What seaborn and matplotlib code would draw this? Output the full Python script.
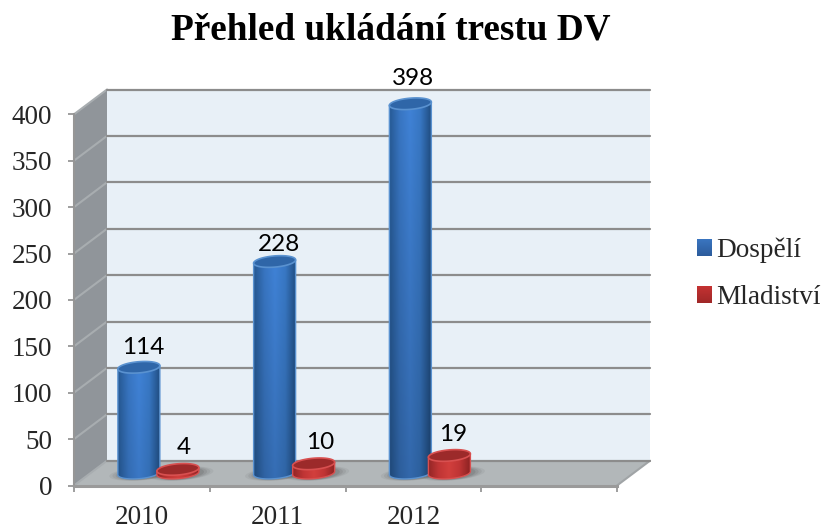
import numpy as np
import pandas as pd
import matplotlib
matplotlib.use("Agg")
import matplotlib.pyplot as plt
from matplotlib.patches import Polygon, PathPatch
from matplotlib.path import Path
import seaborn as sns

# values
years = ['2010', '2011', '2012']
dospeli = [114, 228, 398]
mladistvi = [4, 10, 19]
y_ticks = [0, 50, 100, 150, 200, 250, 300, 350, 400]
series_names = ['Dospělí', 'Mladiství']
title = 'Přehled ukládání trestu DV'

W, H = 821, 529
SERIF = 'Liberation Serif'

# plot box in pixels: front plane and depth of the 3D box
FRONT_L, FRONT_R, FRONT_B, FRONT_T = 74, 617, 485.5, 114.3
DX, DY = 33, -24.8
RADIUS = 21          # cylinder radius
ELL = 5.6            # half height of the ellipse
TILT = 0.08          # slope of the ellipse, right side higher

GRID = '#8c8c8c'
AXIS = '#969696'

BLUE_SIDE = [(0.15, 0.35, 0.58), (0.22, 0.46, 0.76), (0.25, 0.51, 0.84), (0.22, 0.47, 0.77), (0.13, 0.31, 0.52)]
RED_SIDE = [(0.58, 0.15, 0.15), (0.76, 0.21, 0.21), (0.83, 0.25, 0.24), (0.76, 0.21, 0.21), (0.56, 0.14, 0.14)]
STYLE = {
    'Dospělí': dict(side=BLUE_SIDE, top='#2f66a8', edge='#5a92d0', dark='#2c5c9c'),
    'Mladiství': dict(side=RED_SIDE, top='#9c2a2a', edge='#d85050', dark='#a02828'),
}
# label offset from the top of each cylinder, (dx, dy) in pixels
LABEL_OFF = {
    ('Dospělí', 0): (4, -20), ('Dospělí', 1): (4, -17), ('Dospělí', 2): (3, -25),
    ('Mladiství', 0): (6, -22), ('Mladiství', 1): (7, -21), ('Mladiství', 2): (4, -21),
}


def add_box(fig, left, right, bottom, top, **kw):
    """axes from pixel position (y counted from the top of the picture)"""
    return fig.add_axes([left / W, 1 - bottom / H, (right - left) / W, (bottom - top) / H], **kw)


def ellipse_xy(cx, cy, start=0, stop=2 * np.pi, a=RADIUS, b=ELL):
    t = np.linspace(start, stop, 60)
    x = cx + a * np.cos(t)
    y = cy + b * np.sin(t) - TILT * a * np.cos(t)
    return np.column_stack([x, y])


def cylinder(ax, cx, top_y, base_y, style, z):
    low = ellipse_xy(cx, base_y, 0, np.pi)
    top_r = ellipse_xy(cx, top_y, 0, 0)[0]
    top_l = ellipse_xy(cx, top_y, np.pi, np.pi)[0]
    body = np.vstack([[top_r], low, [top_l]])
    patch = Polygon(body, closed=True, fc='none', ec=style['edge'], lw=1.0, zorder=z + 0.2)
    ax.add_patch(patch)

    # side of the cylinder, dark edges and a bit darker to the bottom
    prof = np.array(style['side'])
    xs = np.linspace(0, 1, 64)
    row = np.column_stack([np.interp(xs, np.linspace(0, 1, 5), prof[:, i]) for i in range(3)])
    y_min, y_max = body[:, 1].min(), body[:, 1].max()
    fade = np.linspace(1.0, 1.0 - min(0.2, (y_max - y_min) / 1400), 64)[:, None, None]
    img = np.clip(row[None, :, :] * fade, 0, 1)
    im = ax.imshow(img, extent=(cx - RADIUS, cx + RADIUS, y_max, y_min), origin='upper',
                   aspect='auto', zorder=z, interpolation='bilinear')
    clip = PathPatch(Path(np.vstack([body, body[0]])), transform=ax.transData, fc='none', ec='none')
    ax.add_patch(clip)
    im.set_clip_path(clip)

    ax.add_patch(Polygon(ellipse_xy(cx, top_y), closed=True, fc=style['top'], ec=style['edge'],
                         lw=1.2, zorder=z + 0.3))


def shadow(ax, cx, base_y):
    for grow, alpha in zip([1.55, 1.4, 1.25, 1.1], [0.07, 0.09, 0.11, 0.14]):
        pts = ellipse_xy(cx + 3, base_y + 0.5, a=RADIUS * grow, b=ELL * (0.7 + grow / 3))
        ax.add_patch(Polygon(pts, closed=True, fc='#3c3c3c', ec='none', alpha=alpha, zorder=1))


df = pd.DataFrame({'rok': years * 2,
                   'serie': [series_names[0]] * 3 + [series_names[1]] * 3,
                   'pocet': dospeli + mladistvi})

sns.set_style('white')
plt.rcParams['font.family'] = [SERIF, 'DejaVu Serif']
fig = plt.figure(figsize=(W / 100, H / 100), dpi=100, facecolor='white')

# side wall and floor, in pixel coordinates
bg = add_box(fig, 0, W, H, 0, zorder=0)
bg.set_xlim(0, W)
bg.set_ylim(H, 0)
bg.axis('off')
bg.add_patch(Polygon([(FRONT_L, FRONT_B), (FRONT_L + DX, FRONT_B + DY), (FRONT_L + DX, FRONT_T + DY), (FRONT_L, FRONT_T)],
                     closed=True, fc='#90959a', ec='none'))
bg.add_patch(Polygon([(FRONT_L, FRONT_B), (FRONT_L + DX, FRONT_B + DY), (FRONT_R + DX, FRONT_B + DY), (FRONT_R, FRONT_B)],
                     closed=True, fc='#b2b7b9', ec='none'))
per_unit = (FRONT_B - FRONT_T) / 400
for v in y_ticks:
    y = FRONT_B - v * per_unit
    bg.plot([FRONT_L, FRONT_L + DX], [y, y + DY], color='#a8adb0', lw=1.5)
bg.plot([FRONT_R, FRONT_R + DX], [FRONT_B, FRONT_B + DY], color='#a0a4a6', lw=1.5)

# back wall with the grid lines
wall = add_box(fig, FRONT_L + DX, FRONT_R + DX, FRONT_B + DY, FRONT_T + DY, zorder=1)
wall.set_facecolor('#e8f0f7')
wall.set_xlim(0, 1)
wall.set_ylim(0, 400)
wall.set_xticks([])
wall.set_yticks(y_ticks)
wall.tick_params(left=False, labelleft=False)
wall.grid(True, axis='y', color=GRID, lw=1.6)
for s in wall.spines.values():
    s.set_visible(False)
for line in wall.get_ygridlines():
    line.set_clip_on(False)

# front plane with the axes
ax = add_box(fig, FRONT_L, FRONT_R, FRONT_B, FRONT_T, zorder=2)
ax.patch.set_alpha(0)
ax.set_xlim(-0.5, 3.5)
ax.set_ylim(0, 400)
ax.set_yticks(y_ticks)
ax.set_xticks(np.arange(-0.5, 4, 1))
ax.set_xticklabels([])
ax.set_xticks(range(len(years)), labels=years, minor=True)
ax.tick_params(axis='y', length=4.5, width=1.3, color=AXIS, pad=11, labelsize=19.5, left=True)
ax.tick_params(axis='x', which='major', length=4.5, width=1.3, color=AXIS, bottom=True)
ax.tick_params(axis='x', which='minor', length=0, pad=14, labelsize=19.5, bottom=True)
sns.despine(ax=ax)
ax.spines['left'].set_color(AXIS)
ax.spines['left'].set_linewidth(1.5)
ax.spines['bottom'].set_color('#9a9a9a')
ax.spines['bottom'].set_linewidth(2.2)

# bars stand half way into the box
bar_ax = add_box(fig, FRONT_L + DX / 2, FRONT_R + DX / 2, FRONT_B + DY / 2, FRONT_T + DY / 2, zorder=3)
bar_ax.patch.set_alpha(0)
sns.barplot(data=df, x='rok', y='pocet', hue='serie', hue_order=series_names,
            order=years + [' '], palette=['#3a75c0', '#c43232'], width=0.575, gap=0,
            saturation=1, ax=bar_ax, legend=True)
bar_ax.set_xlim(-0.5, 3.5)
bar_ax.set_ylim(0, 400)
bar_ax.axis('off')

sns.move_legend(bar_ax, loc='center left', bbox_to_anchor=(697 / W, 1 - 274 / H),
                bbox_transform=fig.transFigure, title=None, frameon=False, fontsize=19.6,
                borderpad=0, borderaxespad=0, handlelength=0.55, handleheight=0.55,
                handletextpad=0.17, labelspacing=0.82)

# cylinders, in pixel coordinates on top of the bars
fg = add_box(fig, 0, W, H, 0, zorder=4)
fg.set_xlim(0, W)
fg.set_ylim(H, 0)
fg.axis('off')

bars = [p for p in bar_ax.patches if np.isfinite(p.get_height()) and p.get_height() > 0]
bars = sorted(bars, key=lambda p: p.get_x())
to_px = bar_ax.transData + fg.transData.inverted()
z = 2
for i in range(len(years)):
    for k, name in enumerate(series_names):
        bar = bars[i * 2 + k]
        x_mid = bar.get_x() + bar.get_width() / 2
        cx, base_y = to_px.transform((x_mid, 0))
        _, top_y = to_px.transform((x_mid, bar.get_height()))
        shadow(fg, cx, base_y)
        cylinder(fg, cx, top_y, base_y, STYLE[name], z)
        off = LABEL_OFF[(name, i)]
        fg.text(cx + off[0], top_y + off[1], str(int(bar.get_height())), ha='center', va='center',
                fontsize=17.5, family=['Lato', 'DejaVu Sans'], color='black', zorder=20)
        z += 1

# legend keys get a soft shade too
fig.canvas.draw()
leg = bar_ax.get_legend()
for handle, name in zip(leg.legend_handles, series_names):
    box = handle.get_window_extent().transformed(fg.transData.inverted())
    c = np.array(matplotlib.colors.to_rgb(handle.get_facecolor()))
    d = np.array(matplotlib.colors.to_rgb(STYLE[name]['dark']))
    shade = np.linspace(c, d, 32)[:, None, :]
    fg.imshow(shade, extent=(box.x0, box.x1, max(box.y0, box.y1), min(box.y0, box.y1)), origin='upper',
              aspect='auto', zorder=5, interpolation='bilinear')
fg.set_xlim(0, W)
fg.set_ylim(H, 0)

fig.text(390.5 / W, 1 - 30.5 / H, title, ha='center', va='center', fontsize=26.8, fontweight='bold', color='black')

fig.savefig('out.png', dpi=100)
